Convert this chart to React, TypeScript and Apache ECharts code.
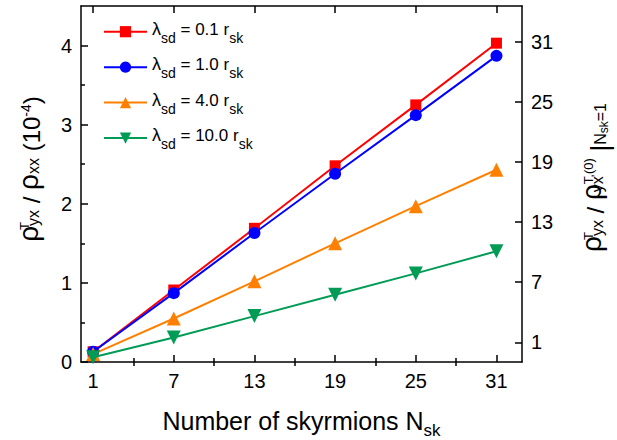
import React, { useEffect, useRef } from "react";
import * as echarts from "echarts";

const N_SK = [1, 7, 13, 19, 25, 31];
const LAMBDAS = ["0.1", "1.0", "4.0", "10.0"];
const RED = [0.13, 0.91, 1.69, 2.48, 3.25, 4.03];
const BLUE = [0.13, 0.87, 1.63, 2.38, 3.12, 3.87];
const ORANGE = [0.1, 0.55, 1.02, 1.5, 1.97, 2.43];
const GREEN = [0.06, 0.31, 0.58, 0.85, 1.12, 1.4];
const X_MAJOR = [1, 7, 13, 19, 25, 31];
const X_MINOR = [4, 10, 16, 22, 28];
const Y_MAJOR = [0, 1, 2, 3, 4];
const Y_MINOR = [0.5, 1.5, 2.5, 3.5];
const Y2_MAJOR = [1, 7, 13, 19, 25, 31];
const LEFT_TITLE = "{r|ρ}{t|T}{s|yx}{m| / }{r|ρ}{s|xx}{m| (10}{e|-4}{m|)}";
const RIGHT_TITLE = "{r|ρ}{t|T}{s|yx}{m| / }{r|ρ}{sz|yx}{tw|T,(0)}{m| }{bar||}{n|N}{nn|sk}{n|=1}";

const FONT = 'Arial, "Liberation Sans", sans-serif';
const BLACK = "#000";

const tok = (fontSize: number, lineHeight: number, pad: number, extra: any = {}) => ({
  fontSize,
  lineHeight,
  fontFamily: FONT,
  color: BLACK,
  fill: BLACK,
  verticalAlign: "top",
  padding: [pad, 0, 0, 0],
  ...extra,
});

export default function App() {
  const ref = useRef<HTMLDivElement>(null);
  useEffect(() => {
    if (!ref.current) return;
    const chart = echarts.init(ref.current, undefined, { renderer: "svg" });
    const line = { show: true, onZero: false, lineStyle: { color: BLACK, width: 1.5 } };
    const noLine = { show: false };
    const tick = (vals: number[], len: number) => ({
      show: true,
      inside: true,
      length: len,
      customValues: vals,
      lineStyle: { color: BLACK, width: 1.5 },
    });
    const label = (vals: number[]) => ({
      show: true,
      customValues: vals,
      fontSize: 20,
      color: BLACK,
      fontFamily: FONT,
      margin: 9,
    });
    const off = { show: false };
    const yRich = {
      m: tok(24, 32, 5.26),
      r: tok(28, 10, 0),
      t: tok(13, 10, 4.47, { width: 0 }),
      tw: tok(13, 10, 4.47),
      s: tok(16, 10, 11.54),
      sz: tok(16, 10, 11.54, { width: 0 }),
      e: tok(14, 10, 4.66),
      bar: tok(26, 10, 9.4),
      n: tok(16, 10, 14.24),
      nn: tok(12, 10, 19.78),
    };
    const xRich = {
      m: tok(25, 30, 3.75),
      s: tok(17, 10, 17.2),
    };
    const colors = ["#FF0000", "#0000FF", "#FF8000", "#009B55"];
    const symbols = ["rect", "circle", "triangle", "triangle"];
    const sizes = [11, 12, 14, 14];
    const rotates = [0, 0, 0, 180];
    const datas = [RED, BLUE, ORANGE, GREEN];
    const names = LAMBDAS.map((l) => `λsd = ${l} rsk`);

    chart.setOption({
      animation: false,
      grid: {
        left: 81,
        right: 95,
        top: 6,
        bottom: 78,
        containLabel: false,
        outerBoundsMode: "none",
      },
      graphic: [
        {
          type: "text",
          x: 14,
          y: 169,
          rotation: Math.PI / 2,
          silent: true,
          style: { text: LEFT_TITLE, rich: yRich, align: "center", verticalAlign: "top", fill: BLACK },
        },
        {
          type: "text",
          x: 577.8,
          y: 177.5,
          rotation: Math.PI / 2,
          silent: true,
          style: { text: RIGHT_TITLE, rich: yRich, align: "center", verticalAlign: "top", fill: BLACK },
        },
      ],
      legend: {
        orient: "vertical",
        left: 103,
        top: 18.7,
        padding: 0,
        itemWidth: 43,
        itemHeight: 14,
        itemGap: 9.5,
        data: names,
        formatter: (name: string) => {
          const i = names.indexOf(name);
          return `{l|λ}{s|sd}{m| = ${LAMBDAS[i]} r}{s|sk}`;
        },
        textStyle: {
          color: BLACK,
          fontFamily: FONT,
          rich: {
            l: tok(18, 10, 1.22),
            m: tok(17, 26, 2.23),
            s: tok(14, 10, 11.96),
          },
        },
      },
      xAxis: [
        {
          type: "value",
          position: "bottom",
          min: 0.1,
          max: 32.9,
          axisLine: line,
          axisTick: tick(X_MAJOR, 7),
          axisLabel: label(X_MAJOR),
          splitLine: off,
          name: "{m|Number of skyrmions N}{s|sk}",
          nameLocation: "middle",
          nameGap: 43,
          nameTextStyle: { rich: xRich },
        },
        {
          type: "value",
          position: "bottom",
          min: 0.1,
          max: 32.9,
          axisLine: noLine,
          axisTick: tick(X_MINOR, 4),
          axisLabel: off,
          splitLine: off,
        },
        {
          type: "value",
          position: "top",
          min: 0.1,
          max: 32.9,
          axisLine: line,
          axisTick: tick(X_MAJOR, 7),
          axisLabel: off,
          splitLine: off,
        },
        {
          type: "value",
          position: "top",
          min: 0.1,
          max: 32.9,
          axisLine: noLine,
          axisTick: tick(X_MINOR, 4),
          axisLabel: off,
          splitLine: off,
        },
      ],
      yAxis: [
        {
          type: "value",
          position: "left",
          min: 0,
          max: 4.5,
          axisLine: line,
          axisTick: tick(Y_MAJOR, 7),
          axisLabel: label(Y_MAJOR),
          splitLine: off,
        },
        {
          type: "value",
          position: "left",
          min: 0,
          max: 4.5,
          axisLine: noLine,
          axisTick: tick(Y_MINOR, 4),
          axisLabel: off,
          splitLine: off,
        },
        {
          type: "value",
          position: "right",
          min: -0.97,
          max: 34.56,
          axisLine: line,
          axisTick: tick(Y2_MAJOR, 7),
          axisLabel: label(Y2_MAJOR),
          splitLine: off,
        },
      ],
      series: names.map((name, i) => ({
        type: "line",
        name,
        xAxisIndex: 0,
        yAxisIndex: 0,
        data: N_SK.map((n, j) => [n, datas[i][j]]),
        symbol: symbols[i],
        symbolSize: sizes[i],
        symbolRotate: rotates[i],
        showAllSymbol: true,
        lineStyle: { color: colors[i], width: 2 },
        itemStyle: { color: colors[i] },
        z: 2 + i,
      })),
    });
    return () => chart.dispose();
  }, []);
  return (
    <div
      ref={ref}
      style={{ position: "fixed", left: 0, top: 0, width: 617, height: 440, background: "#fff" }}
    />
  );
}
